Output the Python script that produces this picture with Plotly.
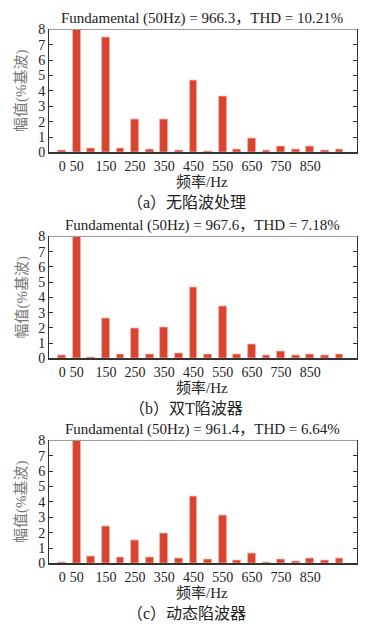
import plotly.graph_objects as go

freqs = [0, 50, 100, 150, 200, 250, 300, 350, 400, 450, 500, 550, 600, 650, 700, 750, 800, 850, 900, 950]
vals_a = [0.12, 100, 0.27, 7.5, 0.23, 2.13, 0.17, 2.13, 0.12, 4.66, 0.08, 3.63, 0.19, 0.88, 0.12, 0.42, 0.2, 0.36, 0.12, 0.19]
vals_b = [0.19, 100, 0.09, 2.61, 0.24, 1.95, 0.28, 2.03, 0.3, 4.68, 0.26, 3.38, 0.28, 0.93, 0.19, 0.45, 0.17, 0.24, 0.19, 0.28]
vals_c = [0.04, 100, 0.45, 2.43, 0.36, 1.51, 0.36, 1.94, 0.3, 4.36, 0.23, 3.13, 0.17, 0.62, 0.09, 0.28, 0.11, 0.32, 0.17, 0.3]
titles = ["Fundamental (50Hz) = 966.3，THD = 10.21%",
          "Fundamental (50Hz) = 967.6，THD = 7.18%",
          "Fundamental (50Hz) = 961.4，THD = 6.64%"]
captions = ["（a）无陷波处理", "（b）双T陷波器", "（c）动态陷波器"]
tick_vals = [0, 50, 150, 250, 350, 450, 550, 650, 750, 850]
tick_text = ["0", "50", "150", "250", "350", "450", "550", "650", "750", "850"]
y_ticks = [0, 1, 2, 3, 4, 5, 6, 7, 8]

W, H = 379, 632
FONT = "'Liberation Serif', 'Times New Roman', 'Noto Sans CJK SC', serif"
BAR = "#D94430"

# panel pixel boxes: (top, bottom)
panels = [(23, 149), (235, 360), (444, 570)]
x0px, x1px = 49, 357

fig = go.Figure()
annotations = []
shapes = []
for i, (vals, (top, bot)) in enumerate(zip([vals_a, vals_b, vals_c], panels)):
    n = "" if i == 0 else str(i + 1)
    fig.add_trace(go.Bar(x=freqs, y=vals, width=27, marker=dict(color=BAR, line=dict(color="#F2B3A6", width=0.8)),
                         xaxis="x" + n, yaxis="y" + n, showlegend=False, hoverinfo="skip"))
    ydom = [1 - bot / H, 1 - top / H]
    xdom = [x0px / W, x1px / W]
    fig.update_layout(**{
        "xaxis" + n: dict(domain=xdom, range=[-45, 1010], anchor="y" + n, tickvals=tick_vals, ticktext=tick_text,
                          showline=True, linecolor="#333", linewidth=1.5, ticks="", showgrid=False, zeroline=False,
                          tickfont=dict(family=FONT, size=14, color="#222")),
        "yaxis" + n: dict(domain=ydom, range=[0, 8], anchor="x" + n, tickvals=y_ticks, showline=True, linecolor="#333",
                          linewidth=1, mirror="ticks", ticks="inside", ticklen=4, tickcolor="#333", showgrid=False,
                          zeroline=False, tickfont=dict(family=FONT, size=14, color="#222")),
    })
    shapes.append(dict(type="line", xref="paper", yref="paper", x0=xdom[0], x1=xdom[1], y0=ydom[1], y1=ydom[1],
                       line=dict(color="#999", width=1)))
    annotations.append(dict(text=titles[i], xref="paper", yref="paper", x=202 / W,
                            y=1 - (top - 11) / H, showarrow=False, font=dict(family=FONT, size=15, color="#222"),
                            xanchor="center", yanchor="middle"))
    annotations.append(dict(text="频率/Hz", xref="paper", yref="paper", x=202 / W, y=1 - (bot + 30) / H,
                            showarrow=False, font=dict(family=FONT, size=15, color="#222"),
                            xanchor="center", yanchor="middle"))
    annotations.append(dict(text=captions[i], xref="paper", yref="paper", x=186 / W, y=1 - (bot + 51) / H,
                            showarrow=False, font=dict(family=FONT, size=16, color="#222"),
                            xanchor="center", yanchor="middle"))
    annotations.append(dict(text="幅值(%基波)", xref="paper", yref="paper", x=22 / W, y=1 - (top + bot) / 2 / H,
                            showarrow=False, textangle=-90, font=dict(family=FONT, size=15, color="#777"),
                            xanchor="center", yanchor="middle"))

fig.update_layout(width=W, height=H, margin=dict(l=0, r=0, t=0, b=0), paper_bgcolor="white",
                  plot_bgcolor="white", annotations=annotations, shapes=shapes, bargap=0, hovermode=False)
fig.write_html("out.html", config={"displayModeBar": False},
               post_script="document.body.style.margin='0';document.body.style.overflow='hidden';")
